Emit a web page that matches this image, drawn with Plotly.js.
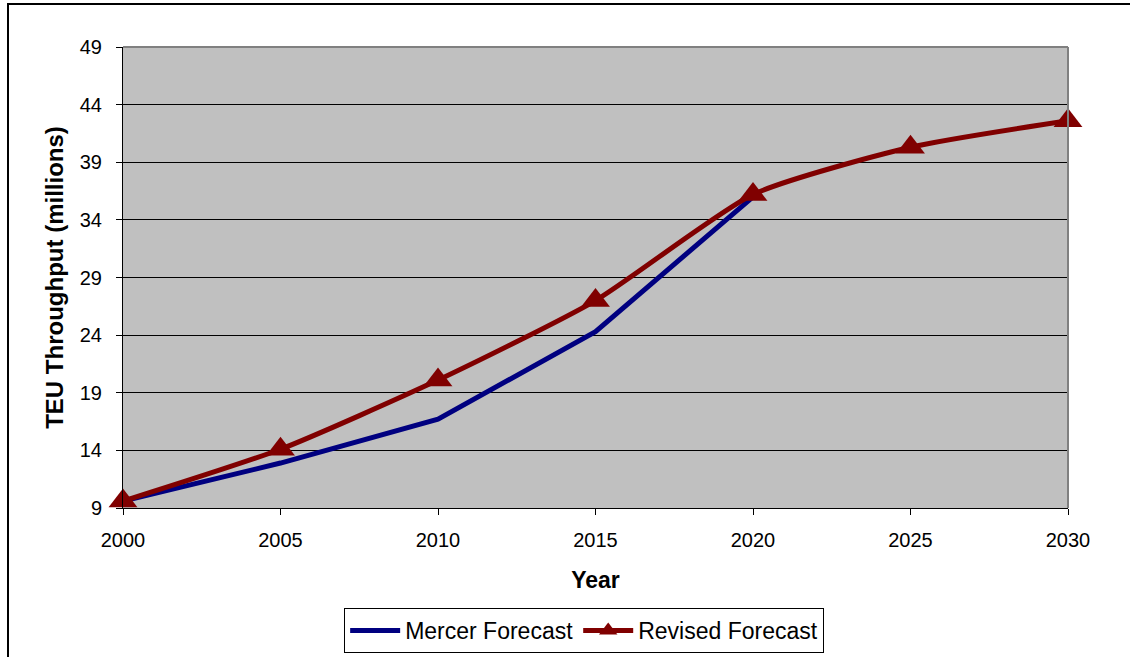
<!DOCTYPE html>
<html>
<head>
<meta charset="utf-8">
<script src="https://cdn.plot.ly/plotly-3.0.1.min.js"></script>
<style>
  html, body { margin: 0; padding: 0; background: #fff; }
  #wrap { position: relative; width: 1130px; height: 657px; overflow: hidden; }
  #chart { width: 1130px; height: 657px; }
  #frame { position: absolute; left: 7px; top: 3px; width: 1200px; height: 700px;
           border-left: 2px solid #000; border-top: 2px solid #000; pointer-events: none; }
</style>
</head>
<body>
<div id="wrap">
  <div id="chart"></div>
  <div id="frame"></div>
</div>
<script>
const mercerYears = [2000, 2005, 2010, 2015, 2020];
const mercerValues = [9.6, 12.9, 16.7, 24.3, 36.0];
const revisedYears = [2000, 2005, 2010, 2015, 2020, 2025, 2030];
const revisedValues = [9.6, 14.1, 20.1, 27.0, 36.2, 40.3, 42.6];
const xTicks = [2000, 2005, 2010, 2015, 2020, 2025, 2030];
const yTicks = [9, 14, 19, 24, 29, 34, 39, 44, 49];

const traces = [
  {
    x: mercerYears, y: mercerValues, name: 'Mercer Forecast',
    type: 'scatter', mode: 'lines', cliponaxis: false,
    line: {color: '#000080', width: 5}
  },
  {
    x: revisedYears, y: revisedValues, name: 'Revised Forecast',
    type: 'scatter', mode: 'lines+markers', cliponaxis: false,
    line: {color: '#800000', width: 5, shape: 'spline', smoothing: 0.6},
    marker: {symbol: 'triangle-up', size: 25, color: '#800000'}
  }
];

const layout = {
  width: 1130, height: 657,
  margin: {l: 123, r: 62, t: 47, b: 149, autoexpand: false},
  paper_bgcolor: '#ffffff',
  plot_bgcolor: '#c0c0c0',
  font: {family: 'Liberation Sans, Arial, sans-serif', color: '#000', size: 20},
  showlegend: true,
  legend: {
    orientation: 'h', x: 0.488, xanchor: 'center', y: -0.217, yanchor: 'top',
    bordercolor: '#000', borderwidth: 1, bgcolor: '#fff',
    font: {size: 23}, tracegroupgap: 0, itemwidth: 50
  },
  xaxis: {
    range: [2000, 2030], tickvals: xTicks, ticktext: xTicks.map(String),
    ticks: 'outside', ticklen: 6, tickcolor: '#000', tickwidth: 1,
    ticklabelstandoff: 8, automargin: false,
    showgrid: false, zeroline: false,
    showline: true, linecolor: '#000', linewidth: 1, mirror: false,
    title: {text: '<b>Year</b>', font: {size: 23}, standoff: 21},
    fixedrange: true
  },
  yaxis: {
    range: [9, 49], tickvals: yTicks, ticktext: yTicks.map(String),
    ticks: 'outside', ticklen: 6, tickcolor: '#000', tickwidth: 1,
    ticklabelstandoff: 10, automargin: false,
    showgrid: true, gridcolor: '#000', gridwidth: 1, zeroline: false,
    showline: true, linecolor: '#000', linewidth: 1,
    title: {text: '<b>TEU Throughput (millions)</b>', font: {size: 24}, standoff: 9},
    fixedrange: true
  },
  shapes: [
    {type: 'line', xref: 'paper', yref: 'paper', x0: 0, x1: 1, y0: 1, y1: 1,
     line: {color: '#808080', width: 2}},
    {type: 'line', xref: 'paper', yref: 'paper', x0: 1, x1: 1, y0: 0, y1: 1,
     line: {color: '#808080', width: 2}}
  ]
};

Plotly.newPlot('chart', traces, layout, {displayModeBar: false, staticPlot: true});
</script>
</body>
</html>
